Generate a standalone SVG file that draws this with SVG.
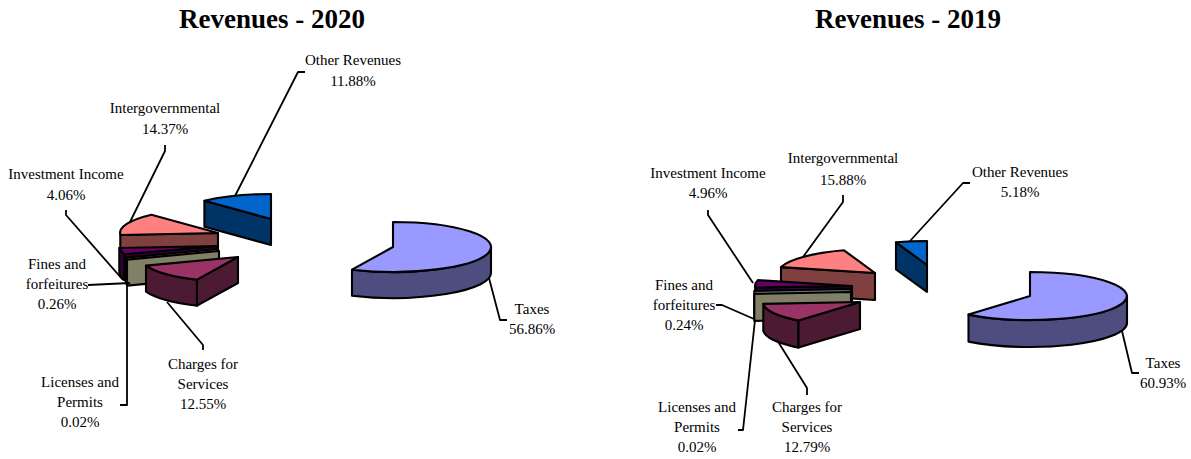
<svg xmlns="http://www.w3.org/2000/svg" width="1191" height="459" viewBox="0 0 1191 459">
<style>
.t{font-family:"Liberation Serif","Times New Roman",serif;font-size:27px;font-weight:bold;text-anchor:middle;fill:#000}
.l{font-family:"Liberation Serif","Times New Roman",serif;font-size:15px;text-anchor:middle;fill:#000}
.s{stroke:#000;stroke-width:2.1;stroke-linejoin:round}
.ld{fill:none;stroke:#000;stroke-width:1.8;stroke-linejoin:round}
.taxT{fill:#9999FF}.taxS{fill:#4D4D80}
.chT{fill:#993366}.chS{fill:#4D1A33}
.lic{fill:#808066}.fin{fill:#668080}
.invT{fill:#660066}.invS{fill:#330033}
.igT{fill:#FF8080}.igS{fill:#804040}
.orT{fill:#0066CC}.orS{fill:#003366}
</style>
<rect width="1191" height="459" fill="#fff"/>
<text class="t" x="272" y="28">Revenues - 2020</text>
<text class="t" x="908" y="28">Revenues - 2019</text>

<g id="pie2020">
<g id="other2020"><path class="s orS" d="M271,219 L204.4,200.7 L204.4,226.7 L271,245 Z"/><path class="s orT" d="M271,219 L204.4,200.7 A98 25 0 0 1 271,194 Z"/></g>
<g id="intergov2020"><path class="s igS" d="M218,233 L120.3,235 L120.3,261 L218,259 Z"/><path class="s igT" d="M218,233 L120.3,235 A98 25 0 0 1 151.4,214.7 Z"/></g>
<g id="invest2020"><path class="s invS" d="M124.4,254.2 A98 25 0 0 1 119.3,248 L119.3,274 A98 25 0 0 0 124.4,280.2 Z"/><path class="s invS" d="M217,246 L124.4,254.2 L124.4,280.2 L217,272 Z"/><path class="s invT" d="M217,246 L124.4,254.2 A98 25 0 0 1 119.3,248 Z"/></g>
<g id="fines2020"><path class="s fin" d="M218,249 L125.9,257.6 L125.9,283.6 L218,275 Z"/></g>
<g id="licenses2020"><path class="s lic" d="M219,251 L127,259.6 L127,285.6 L219,277 Z"/></g>
<g id="charges2020"><path class="s chS" d="M197,279.7 A98 25 0 0 1 146,265.6 L146,291.6 A98 25 0 0 0 197,305.7 Z"/><path class="s chS" d="M238,257 L197,279.7 L197,305.7 L238,283 Z"/><path class="s chT" d="M238,257 L197,279.7 A98 25 0 0 1 146,265.6 Z"/></g>
<g id="taxes2020"><path class="s taxS" d="M491,247 A98 25 0 0 1 352,269.7 L352,295.7 A98 25 0 0 0 491,273 Z"/><path class="s taxT" d="M393,247 L393,222 A98 25 0 1 1 352,269.7 Z"/></g>
</g>

<g id="pie2019">
<g id="other2019"><path class="s orS" d="M927,265 L896,242.3 L896,269.3 L927,292 Z"/><path class="s orT" d="M927,265 L896,242.3 A97 24 0 0 1 927,241 Z"/></g>
<g id="intergov2019"><path class="s igS" d="M875,273 L781,267.1 L781,294.1 L875,300 Z"/><path class="s igT" d="M875,273 L781,267.1 A97 24 0 0 1 844,250.3 Z"/></g>
<g id="invest2019"><path class="s invS" d="M852,286 L755.2,287.5 L755.2,314.5 L852,313 Z"/><path class="s invT" d="M852,286 L755.2,287.5 A97 24 0 0 1 758,280.1 Z"/></g>
<g id="fines2019"><path class="s fin" d="M851,289 L754.3,290.9 L754.3,317.9 L851,316 Z"/></g>
<g id="licenses2019"><path class="s lic" d="M851,292 L754.3,293.9 L754.3,320.9 L851,319 Z"/></g>
<g id="charges2019"><path class="s chS" d="M798.5,320.6 A97 24 0 0 1 763.3,303.9 L763.3,330.9 A97 24 0 0 0 798.5,347.6 Z"/><path class="s chS" d="M860,302 L798.5,320.6 L798.5,347.6 L860,329 Z"/><path class="s chT" d="M860,302 L798.5,320.6 A97 24 0 0 1 763.3,303.9 Z"/></g>
<g id="taxes2019"><path class="s taxS" d="M1127,296 A97 24 0 0 1 968.5,314.6 L968.5,341.6 A97 24 0 0 0 1127,323 Z"/><path class="s taxT" d="M1030,296 L1030,272 A97 24 0 1 1 968.5,314.6 Z"/></g>
</g>

<g id="connectors">
<path class="ld" d="M305,72 L298,72 L235,196"/>
<path class="ld" d="M165,145 L165,151 L130,222"/>
<path class="ld" d="M66,210 L66,215 L123,280"/>
<path class="ld" d="M88,285 L130,283"/>
<path class="ld" d="M120,405 L127,405 L127,284"/>
<path class="ld" d="M203,350 L203,345 L167,302"/>
<path class="ld" d="M489,278 L500,320 L507,320"/>
<path class="ld" d="M708,210 L708,215 L753,283"/>
<path class="ld" d="M843,195 L843,202 L803,257"/>
<path class="ld" d="M970,183 L963,183 L910,241"/>
<path class="ld" d="M716,305 L722,305 L754,319"/>
<path class="ld" d="M738,430 L743,430 L755,320"/>
<path class="ld" d="M807,395 L807,388 L777,340"/>
<path class="ld" d="M1122,331 L1132,373 L1139,373"/>
</g>

<g id="labels">
<text class="l" x="353" y="65">Other Revenues</text><text class="l" x="353" y="86">11.88%</text>
<text class="l" x="165" y="113">Intergovernmental</text><text class="l" x="165" y="134">14.37%</text>
<text class="l" x="66" y="179">Investment Income</text><text class="l" x="66" y="200">4.06%</text>
<text class="l" x="57" y="269">Fines and</text><text class="l" x="57" y="289">forfeitures</text><text class="l" x="57" y="309">0.26%</text>
<text class="l" x="80" y="387">Licenses and</text><text class="l" x="80" y="407">Permits</text><text class="l" x="80" y="427">0.02%</text>
<text class="l" x="203" y="369">Charges for</text><text class="l" x="203" y="389">Services</text><text class="l" x="203" y="409">12.55%</text>
<text class="l" x="532" y="314">Taxes</text><text class="l" x="532" y="334">56.86%</text>
<text class="l" x="708" y="178">Investment Income</text><text class="l" x="708" y="198">4.96%</text>
<text class="l" x="843" y="163">Intergovernmental</text><text class="l" x="843" y="185">15.88%</text>
<text class="l" x="1020" y="177">Other Revenues</text><text class="l" x="1020" y="197">5.18%</text>
<text class="l" x="684" y="290">Fines and</text><text class="l" x="684" y="310">forfeitures</text><text class="l" x="684" y="330">0.24%</text>
<text class="l" x="697" y="412">Licenses and</text><text class="l" x="697" y="432">Permits</text><text class="l" x="697" y="452">0.02%</text>
<text class="l" x="807" y="412">Charges for</text><text class="l" x="807" y="432">Services</text><text class="l" x="807" y="452">12.79%</text>
<text class="l" x="1163" y="368">Taxes</text><text class="l" x="1163" y="388">60.93%</text>
</g>
</svg>
